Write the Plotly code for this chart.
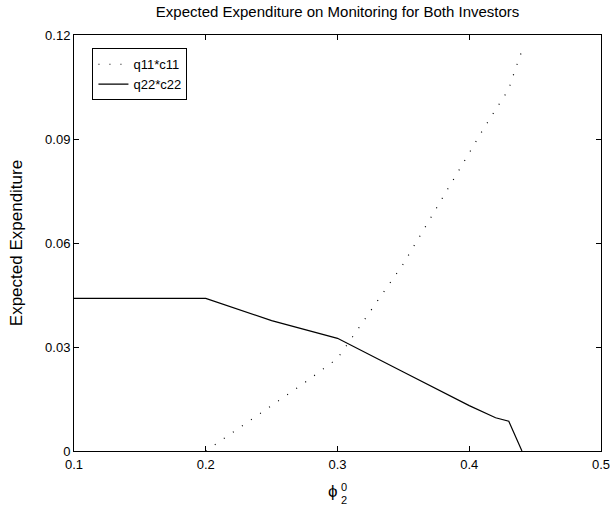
import plotly.graph_objects as go

# Data
phi_q11 = [0.20, 0.25, 0.275, 0.30, 0.325, 0.35, 0.375, 0.40, 0.41, 0.42, 0.43, 0.435, 0.44]
q11c11 = [0.0, 0.0130, 0.0197, 0.0267, 0.0402, 0.0540, 0.0700, 0.0863, 0.0924, 0.0985, 0.1044, 0.1102, 0.1155]

phi_q22 = [0.10, 0.20, 0.25, 0.30, 0.35, 0.40, 0.42, 0.43, 0.44]
q22c22 = [0.044, 0.044, 0.0376, 0.0325, 0.0228, 0.0131, 0.0096, 0.0086, 0.0]

x_ticks = [0.1, 0.2, 0.3, 0.4, 0.5]
y_ticks = [0, 0.03, 0.06, 0.09, 0.12]
y_tick_labels = ["0", "0.03", "0.06", "0.09", "0.12"]
x_tick_labels = ["0.1", "0.2", "0.3", "0.4", "0.5"]

FONT = "Liberation Sans, Arial, Helvetica, sans-serif"

fig = go.Figure()
fig.add_trace(go.Scatter(x=phi_q11, y=q11c11, mode="lines", name="q11*c11",
                         line=dict(color="black", width=1.2, dash="1px,10px")))
fig.add_trace(go.Scatter(x=phi_q22, y=q22c22, mode="lines", name="q22*c22",
                         line=dict(color="black", width=1.2)))

axis_common = dict(showline=True, linecolor="black", linewidth=1, mirror="ticks",
                   ticks="inside", ticklen=5, tickcolor="black", tickwidth=1,
                   showgrid=False, zeroline=False, automargin=False,
                   tickfont=dict(family=FONT, size=13, color="black"))

fig.update_layout(
    width=611, height=509,
    margin=dict(l=74, r=10, t=35, b=58),
    paper_bgcolor="white", plot_bgcolor="white",
    title=dict(text="Expected Expenditure on Monitoring for Both Investors",
               x=0.5525, xanchor="center", y=1 - 12 / 509, yanchor="middle",
               font=dict(family=FONT, size=15, color="black")),
    xaxis=dict(range=[0.1, 0.5], tickvals=x_ticks, ticktext=x_tick_labels,
               ticklabelstandoff=1, **axis_common),
    yaxis=dict(range=[0, 0.12], tickvals=y_ticks, ticktext=y_tick_labels,
               title=dict(text="Expected Expenditure", standoff=18,
                          font=dict(family=FONT, size=17, color="black")),
               **axis_common),
    legend=dict(x=0.035, y=0.968, xanchor="left", yanchor="top",
                bordercolor="black", borderwidth=1, bgcolor="white",
                font=dict(family=FONT, size=13, color="black"),
                itemwidth=30, tracegroupgap=0),
    showlegend=True,
)

# x-axis title phi with stacked super/subscript
fig.add_annotation(text="ϕ", xref="paper", yref="paper", x=(333 - 74) / 527, y=-(491 - 451) / 416,
                   showarrow=False, xanchor="center", yanchor="middle",
                   font=dict(family=FONT, size=17, color="black"))
fig.add_annotation(text="0", xref="paper", yref="paper", x=(344 - 74) / 527, y=-(487 - 451) / 416,
                   showarrow=False, xanchor="center", yanchor="middle",
                   font=dict(family=FONT, size=11, color="black"))
fig.add_annotation(text="2", xref="paper", yref="paper", x=(344 - 74) / 527, y=-(500 - 451) / 416,
                   showarrow=False, xanchor="center", yanchor="middle",
                   font=dict(family=FONT, size=11, color="black"))

fig.write_html("out.html")
